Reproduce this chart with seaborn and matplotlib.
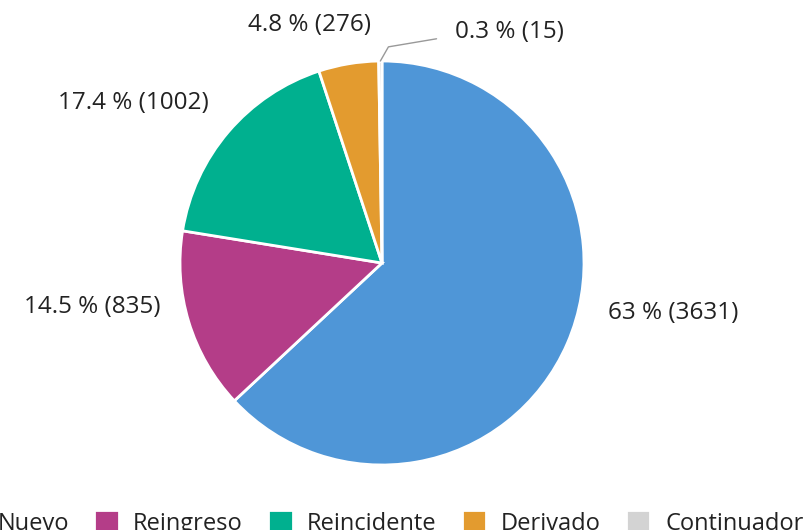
import numpy as np
import matplotlib
matplotlib.use("Agg")
import matplotlib.pyplot as plt
import seaborn as sns

# --- data ---
categories = ["Nuevo", "Reingreso", "Reincidente", "Derivado", "Continuador"]
counts = [3631, 835, 1002, 276, 15]
colors = ["#4F96D7", "#B43D88", "#00B08F", "#E39B2F", "#D3D3D3"]

sns.set_theme(style="white")
plt.rcParams["font.family"] = ["Open Sans", "DejaVu Sans"]

W, H = 805, 530
fig = plt.figure(figsize=(W / 100, H / 100), dpi=100)
fig.patch.set_facecolor("white")

# pie centre (382, 263), radius ~202 px
ax = fig.add_axes([180 / W, 65 / H, 404 / W, 404 / H])
wedges, _ = ax.pie(counts, colors=colors, startangle=90, counterclock=False,
                   radius=1, wedgeprops=dict(edgecolor="white", linewidth=2))
ax.set_xlim(-1, 1)
ax.set_ylim(-1, 1)
ax.axis("off")

total = sum(counts)
def fmt(v):
    p = f"{100 * v / total:.1f}"
    if p.endswith(".0"):
        p = p[:-2]
    return f"{p} % ({v})"

# label anchor positions in pixels (x, y, ha)
label_pos = [(608, 313, "left"), (160, 307, "right"), (209, 103, "right"),
             (371, 25, "right"), (455, 32, "left")]
for v, (x, y, ha) in zip(counts, label_pos):
    fig.text(x / W, 1 - y / H, fmt(v), ha=ha, va="center", fontsize=17.5,
             color="#222222")

# leader line for the tiny slice
w = wedges[-1]
mid = np.deg2rad((w.theta1 + w.theta2) / 2)
p0 = (np.cos(mid) * 1.0, np.sin(mid) * 1.0)
p1 = (p0[0] + 0.04, 1.07)
p2 = (0.27, 1.11)
ax.plot([p0[0], p1[0], p2[0]], [p0[1], p1[1], p2[1]], color="#999999",
        lw=1, clip_on=False)

# legend runs off both sides of the figure, as in the reference
fig.legend(wedges, categories, loc="center", bbox_to_anchor=(0.473, 1 - 523 / H),
           ncol=5, frameon=False, fontsize=17, handlelength=1.05, handleheight=1.05,
           handletextpad=0.62, columnspacing=1.05, labelcolor="#222222")

plt.savefig("out.png", dpi=100)
